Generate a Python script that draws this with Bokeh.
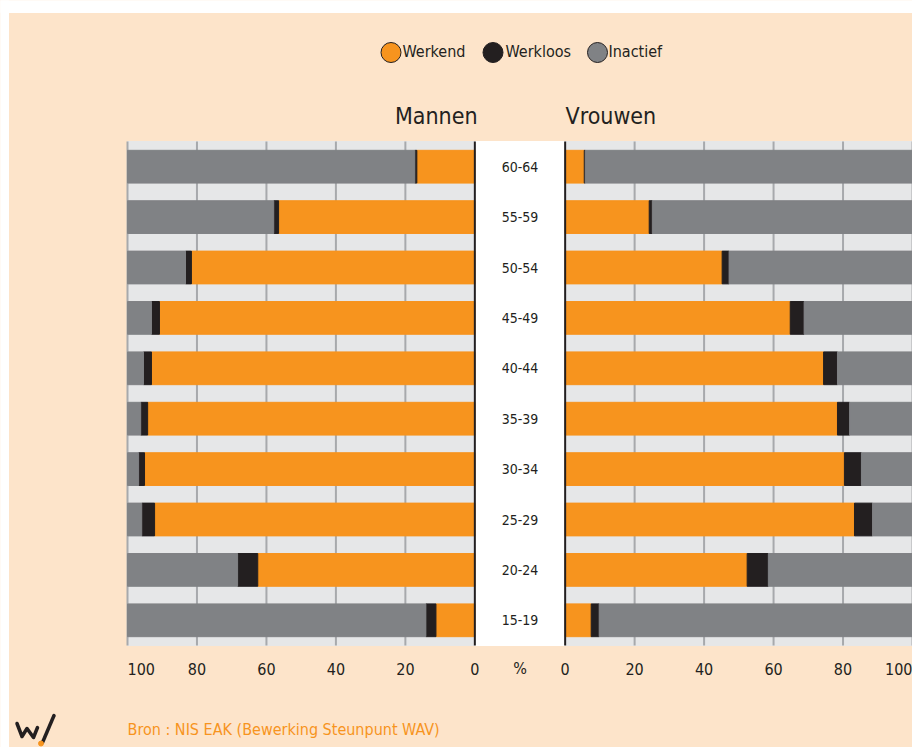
import numpy as np
from bokeh.plotting import figure
from bokeh.models import Range1d
from bokeh.core.properties import value
from bokeh.embed import file_html
from bokeh.resources import INLINE

# ---------------- data ----------------
ages = ["15-19", "20-24", "25-29", "30-34", "35-39", "40-44", "45-49", "50-54", "55-59", "60-64"]

men_werkend  = [11.2, 62.5, 92.2, 95.1, 94.2, 93.1, 90.8, 81.6, 56.5, 16.7]
men_werkloos = [2.9, 5.8, 3.7, 1.7, 2.0, 2.3, 2.3, 1.7, 1.4, 0.6]
men_inactief = [85.9, 31.7, 4.1, 3.2, 3.8, 4.6, 6.9, 16.7, 42.1, 82.7]

women_werkend  = [7.5, 52.4, 83.3, 80.4, 78.4, 74.4, 64.8, 45.2, 24.2, 5.5]
women_werkloos = [2.3, 6.1, 5.2, 4.9, 3.5, 4.0, 4.0, 2.0, 0.9, 0.3]
women_inactief = [90.2, 41.5, 11.5, 14.7, 18.1, 21.6, 31.2, 52.8, 74.9, 94.2]

series = ["Werkend", "Werkloos", "Inactief"]
colors = ["#F7941E", "#231F20", "#808285"]
tick_values = [100, 80, 60, 40, 20, 0]
unit_label = "%"
panel_titles = ["Mannen", "Vrouwen"]
source_text = "Bron : NIS EAK (Bewerking Steunpunt WAV)"

# ---------------- style / layout constants ----------------
FONT = "DejaVu Sans Condensed"
BEIGE = "#FDE4CA"
ORANGE = "#F7941E"
DARK = "#231F20"
PANEL = "#E6E7E8"
GRID = "#A7A9AC"

W, H = 912, 747            # figure size in page pixels
PAGE_X0, PAGE_Y0 = 0, 0
BG_X0, BG_Y0 = 8, 12       # where the beige card starts
PLOT_L, PLOT_R = 127, 912  # page x of the chart area
PLOT_T, PLOT_B = 141, 645  # page y of the chart area
G = 13                     # half width of the central label column (% units)

n = len(ages)
xmax = 100 + G
kx = (PLOT_R - PLOT_L) / (2 * xmax)          # px per % unit
ky = (PLOT_B - PLOT_T) / n                   # px per category
x_range = Range1d(-xmax - (PLOT_L - PAGE_X0) / kx, xmax + (PAGE_X0 + W - PLOT_R) / kx)
y_range = Range1d(-0.5 - (PAGE_Y0 + H - PLOT_B) / ky, n - 0.5 + (PLOT_T - PAGE_Y0) / ky)

p = figure(width=W, height=H, x_range=x_range, y_range=y_range,
           x_axis_type=None, y_axis_type=None, min_border=0, title=None,
           output_backend="svg", toolbar_location=None)
p.extra_x_ranges = {"px": Range1d(PAGE_X0, PAGE_X0 + W)}
p.extra_y_ranges = {"px": Range1d(PAGE_Y0 + H, PAGE_Y0)}
p.background_fill_color = BEIGE
p.border_fill_color = BEIGE
p.outline_line_color = None

PX = dict(x_range_name="px", y_range_name="px")

# white page around the beige card
p.quad(left=[PAGE_X0, PAGE_X0], right=[PAGE_X0 + W, BG_X0], top=[PAGE_Y0, PAGE_Y0],
       bottom=[BG_Y0, PAGE_Y0 + H], color="white", **PX)

ypos = np.arange(n)
ylo, yhi = -0.5, n - 0.5

# chart panels
p.quad(left=[-xmax, G], right=[-G, xmax], bottom=[ylo, ylo], top=[yhi, yhi], color=PANEL)
p.quad(left=[-G], right=[G], bottom=[ylo], top=[yhi], color="white")

# vertical grid lines
grid_x = [-G - t for t in tick_values if t > 0] + [G + t for t in tick_values if t > 0]
p.segment(x0=grid_x, x1=grid_x, y0=[ylo] * len(grid_x), y1=[yhi] * len(grid_x),
          line_color=GRID, line_width=2)

# stacked bars
men = np.array([men_werkend, men_werkloos, men_inactief])
women = np.array([women_werkend, women_werkloos, women_inactief])
men_cum = np.cumsum(men, axis=0)
women_cum = np.cumsum(women, axis=0)
for i, c in enumerate(colors):
    p.hbar(y=ypos, left=-G - men_cum[i], right=-G - (men_cum[i] - men[i]),
           height=0.65, color=c)
    p.hbar(y=ypos, left=G + (women_cum[i] - women[i]), right=G + women_cum[i],
           height=0.65, color=c)

# zero lines
p.segment(x0=[-G, G], x1=[-G, G], y0=[ylo, ylo], y1=[yhi, yhi], line_color=DARK, line_width=2)

# age labels in the centre column
p.text(x=np.zeros(n), y=ypos, text=ages, text_align="center", text_baseline="middle",
       text_font=value(FONT), text_font_size="14px", text_color=DARK)

# bottom tick labels
tick_x = [-G - t for t in tick_values] + [0] + [G + t for t in reversed(tick_values)]
tick_lbl = [str(t) for t in tick_values] + [unit_label] + [str(t) for t in reversed(tick_values)]
tick_align = ["left"] + ["center"] * (len(tick_x) - 2) + ["right"]
p.text(x=tick_x, y=[668] * len(tick_x), text=tick_lbl, text_align=tick_align,
       text_baseline="middle", text_font=value(FONT), text_font_size="16px",
       text_color=DARK, y_range_name="px")

# legend
legend_circle_x = [390.5, 492.5, 597]
legend_text_x = [402, 505, 608]
p.scatter(x=legend_circle_x, y=[52] * 3, size=20, fill_color=colors,
          line_color=DARK, line_width=1, **PX)
p.text(x=legend_text_x, y=[51] * 3, text=series, text_align="left",
       text_baseline="middle", text_font=value(FONT), text_font_size="16px",
       text_color=DARK, **PX)

# panel titles
p.text(x=[477, 565], y=[115, 115], text=panel_titles, text_align=["right", "left"],
       text_baseline="middle", text_font=value(FONT), text_font_size="23px",
       text_color=DARK, **PX)

# source + logo
p.text(x=[127], y=[729], text=[source_text], text_align="left", text_baseline="middle",
       text_font=value(FONT), text_font_size="16px", text_color=ORANGE, **PX)
p.line(x=[16.5, 21.5, 26.5, 33, 37], y=[723, 736, 728, 737, 727], line_color=DARK,
       line_width=3.5, line_join="round", line_cap="round", **PX)
p.line(x=[42, 53.5], y=[742, 715], line_color=DARK, line_width=3.5, line_cap="round", **PX)
p.scatter(x=[40.5], y=[743], size=5, color=ORANGE, **PX)

open("out.html", "w").write(file_html(p, INLINE))
